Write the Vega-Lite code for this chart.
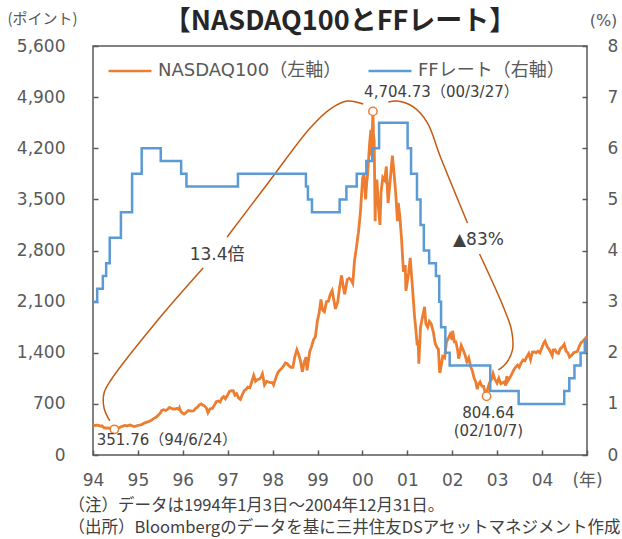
{
  "$schema": "https://vega.github.io/schema/vega-lite/v6.json",
  "width": 494,
  "height": 409,
  "autosize": {"type": "none"},
  "padding": {"left": 93, "top": 46, "right": 35, "bottom": 84},
  "background": "white",
  "config": {
    "view": {"stroke": "#595959", "strokeWidth": 1.5},
    "font": "DejaVu Sans, Noto Sans CJK JP",
    "axis": {
      "grid": false,
      "domain": false,
      "tickColor": "#595959",
      "tickSize": -5,
      "tickWidth": 1.5,
      "labelColor": "#595959",
      "labelFontSize": 17,
      "labelFont": "DejaVu Sans, Noto Sans CJK JP",
      "titleColor": "#595959",
      "titleFontWeight": "normal",
      "titleFont": "Noto Sans CJK JP"
    }
  },
  "title": {
    "text": "【NASDAQ100とFFレート】",
    "font": "Noto Sans CJK JP",
    "fontSize": 27,
    "fontWeight": "bold",
    "color": "#262626",
    "anchor": "middle",
    "offset": -25
  },
  "datasets": {
    "ndx": [
      {"d":"1994-01-03","v":398},{"d":"1994-01-15","v":405},{"d":"1994-02-01","v":410},{"d":"1994-02-15","v":405},
      {"d":"1994-03-01","v":395},{"d":"1994-03-15","v":400},{"d":"1994-04-01","v":372},{"d":"1994-04-15","v":370},
      {"d":"1994-05-01","v":372},{"d":"1994-05-15","v":365},{"d":"1994-06-01","v":370},{"d":"1994-06-15","v":360},
      {"d":"1994-06-24","v":351.76},{"d":"1994-07-08","v":360},{"d":"1994-07-22","v":365},{"d":"1994-08-05","v":375},
      {"d":"1994-08-19","v":390},{"d":"1994-09-02","v":395},{"d":"1994-09-16","v":405},{"d":"1994-10-03","v":398},
      {"d":"1994-10-17","v":405},{"d":"1994-11-01","v":410},{"d":"1994-11-15","v":400},{"d":"1994-12-01","v":390},
      {"d":"1994-12-15","v":395},{"d":"1994-12-30","v":404},
      {"d":"1995-01-13","v":410},{"d":"1995-01-31","v":414},{"d":"1995-02-15","v":430},{"d":"1995-02-28","v":440},
      {"d":"1995-03-15","v":450},{"d":"1995-03-31","v":458},{"d":"1995-04-14","v":470},{"d":"1995-04-28","v":485},
      {"d":"1995-05-15","v":505},{"d":"1995-05-31","v":520},{"d":"1995-06-15","v":545},{"d":"1995-06-30","v":570},
      {"d":"1995-07-14","v":610},{"d":"1995-07-31","v":620},{"d":"1995-08-15","v":610},{"d":"1995-08-31","v":625},
      {"d":"1995-09-15","v":650},{"d":"1995-09-29","v":640},{"d":"1995-10-13","v":630},{"d":"1995-10-31","v":630},
      {"d":"1995-11-15","v":640},{"d":"1995-11-30","v":625},{"d":"1995-12-05","v":645},{"d":"1995-12-15","v":600},
      {"d":"1995-12-29","v":576},
      {"d":"1996-01-12","v":560},{"d":"1996-01-31","v":585},{"d":"1996-02-15","v":610},{"d":"1996-02-29","v":605},
      {"d":"1996-03-15","v":600},{"d":"1996-03-29","v":605},{"d":"1996-04-15","v":640},{"d":"1996-04-30","v":655},
      {"d":"1996-05-15","v":685},{"d":"1996-05-31","v":700},{"d":"1996-06-14","v":680},{"d":"1996-06-28","v":670},
      {"d":"1996-07-12","v":640},{"d":"1996-07-24","v":580},{"d":"1996-08-09","v":630},{"d":"1996-08-30","v":640},
      {"d":"1996-09-13","v":680},{"d":"1996-09-30","v":730},{"d":"1996-10-15","v":740},{"d":"1996-10-31","v":725},
      {"d":"1996-11-15","v":780},{"d":"1996-11-29","v":800},{"d":"1996-12-13","v":770},{"d":"1996-12-31","v":821},
      {"d":"1997-01-15","v":870},{"d":"1997-01-31","v":880},{"d":"1997-02-14","v":880},{"d":"1997-02-28","v":820},
      {"d":"1997-03-14","v":840},{"d":"1997-03-31","v":780},{"d":"1997-04-14","v":760},{"d":"1997-04-30","v":830},
      {"d":"1997-05-15","v":880},{"d":"1997-05-30","v":900},{"d":"1997-06-13","v":930},{"d":"1997-06-30","v":920},
      {"d":"1997-07-15","v":1000},{"d":"1997-07-31","v":1090},{"d":"1997-08-15","v":1010},{"d":"1997-08-29","v":1030},
      {"d":"1997-09-15","v":1040},{"d":"1997-09-30","v":1070},{"d":"1997-10-10","v":1110},{"d":"1997-10-27","v":960},
      {"d":"1997-11-14","v":1010},{"d":"1997-11-28","v":1000},{"d":"1997-12-15","v":990},{"d":"1997-12-31","v":990},
      {"d":"1998-01-09","v":960},{"d":"1998-01-30","v":1070},{"d":"1998-02-13","v":1130},{"d":"1998-02-27","v":1160},
      {"d":"1998-03-13","v":1180},{"d":"1998-03-31","v":1220},{"d":"1998-04-15","v":1260},{"d":"1998-04-30","v":1250},
      {"d":"1998-05-15","v":1220},{"d":"1998-05-29","v":1200},{"d":"1998-06-15","v":1200},{"d":"1998-06-30","v":1340},
      {"d":"1998-07-17","v":1440},{"d":"1998-07-31","v":1380},{"d":"1998-08-14","v":1300},{"d":"1998-08-31","v":1140},
      {"d":"1998-09-15","v":1270},{"d":"1998-09-30","v":1340},{"d":"1998-10-08","v":1160},{"d":"1998-10-30","v":1420},
      {"d":"1998-11-13","v":1480},{"d":"1998-11-30","v":1580},{"d":"1998-12-15","v":1620},{"d":"1998-12-31","v":1836},
      {"d":"1999-01-15","v":1950},{"d":"1999-01-29","v":2130},{"d":"1999-02-12","v":1980},{"d":"1999-02-26","v":1960},
      {"d":"1999-03-15","v":2100},{"d":"1999-03-31","v":2106},{"d":"1999-04-15","v":2200},{"d":"1999-04-30","v":2250},
      {"d":"1999-05-14","v":2120},{"d":"1999-05-27","v":2000},{"d":"1999-06-15","v":2100},{"d":"1999-06-30","v":2296},
      {"d":"1999-07-16","v":2460},{"d":"1999-07-30","v":2300},{"d":"1999-08-10","v":2200},{"d":"1999-08-31","v":2400},
      {"d":"1999-09-15","v":2420},{"d":"1999-09-30","v":2400},{"d":"1999-10-15","v":2350},{"d":"1999-10-29","v":2660},
      {"d":"1999-11-15","v":2860},{"d":"1999-11-30","v":3050},{"d":"1999-12-15","v":3300},{"d":"1999-12-31","v":3708},
      {"d":"2000-01-03","v":3790},{"d":"2000-01-14","v":3850},{"d":"2000-01-27","v":3500},{"d":"2000-02-04","v":3700},
      {"d":"2000-02-15","v":3900},{"d":"2000-02-29","v":4270},{"d":"2000-03-10","v":4450},{"d":"2000-03-15","v":4100},
      {"d":"2000-03-27","v":4704.73},{"d":"2000-03-31","v":4397},{"d":"2000-04-06","v":4300},{"d":"2000-04-14","v":3200},
      {"d":"2000-04-18","v":3600},{"d":"2000-04-28","v":3770},{"d":"2000-05-10","v":3400},{"d":"2000-05-23","v":3150},
      {"d":"2000-06-01","v":3600},{"d":"2000-06-15","v":3800},{"d":"2000-06-30","v":3763},{"d":"2000-07-14","v":3950},
      {"d":"2000-07-28","v":3450},{"d":"2000-08-11","v":3700},{"d":"2000-08-31","v":4077},{"d":"2000-09-01","v":4100},
      {"d":"2000-09-15","v":3850},{"d":"2000-09-29","v":3570},{"d":"2000-10-12","v":3200},{"d":"2000-10-19","v":3450},
      {"d":"2000-10-31","v":3282},{"d":"2000-11-15","v":2950},{"d":"2000-11-30","v":2507},{"d":"2000-12-15","v":2600},
      {"d":"2000-12-20","v":2250},{"d":"2000-12-29","v":2341},
      {"d":"2001-01-12","v":2500},{"d":"2001-01-24","v":2700},{"d":"2001-02-09","v":2350},{"d":"2001-02-28","v":1908},
      {"d":"2001-03-12","v":1700},{"d":"2001-03-22","v":1500},{"d":"2001-03-30","v":1573},{"d":"2001-04-04","v":1250},
      {"d":"2001-04-18","v":1750},{"d":"2001-04-30","v":1855},{"d":"2001-05-21","v":2030},{"d":"2001-05-31","v":1800},
      {"d":"2001-06-15","v":1750},{"d":"2001-06-29","v":1830},{"d":"2001-07-13","v":1800},{"d":"2001-07-31","v":1683},
      {"d":"2001-08-15","v":1530},{"d":"2001-08-31","v":1470},{"d":"2001-09-10","v":1450},{"d":"2001-09-21","v":1126},
      {"d":"2001-09-28","v":1168},{"d":"2001-10-15","v":1350},{"d":"2001-10-31","v":1330},{"d":"2001-11-15","v":1550},
      {"d":"2001-11-30","v":1596},{"d":"2001-12-14","v":1650},{"d":"2001-12-31","v":1577},
      {"d":"2002-01-04","v":1700},{"d":"2002-01-18","v":1550},{"d":"2002-01-31","v":1550},{"d":"2002-02-15","v":1420},
      {"d":"2002-02-22","v":1320},{"d":"2002-02-28","v":1359},{"d":"2002-03-15","v":1500},{"d":"2002-03-28","v":1452},
      {"d":"2002-04-15","v":1370},{"d":"2002-04-30","v":1277},{"d":"2002-05-15","v":1330},{"d":"2002-05-31","v":1208},
      {"d":"2002-06-14","v":1150},{"d":"2002-06-28","v":1051},{"d":"2002-07-12","v":1000},{"d":"2002-07-23","v":900},
      {"d":"2002-07-31","v":962},{"d":"2002-08-15","v":1000},{"d":"2002-08-30","v":942},{"d":"2002-09-13","v":940},
      {"d":"2002-09-30","v":832},{"d":"2002-10-07","v":804.64},{"d":"2002-10-15","v":900},{"d":"2002-10-31","v":989},
      {"d":"2002-11-15","v":1030},{"d":"2002-11-29","v":1116},{"d":"2002-12-13","v":1040},{"d":"2002-12-31","v":984},
      {"d":"2003-01-15","v":1050},{"d":"2003-01-31","v":976},{"d":"2003-02-14","v":990},{"d":"2003-02-28","v":1000},
      {"d":"2003-03-11","v":950},{"d":"2003-03-21","v":1080},{"d":"2003-03-31","v":1018},{"d":"2003-04-15","v":1060},
      {"d":"2003-04-30","v":1106},{"d":"2003-05-15","v":1160},{"d":"2003-05-30","v":1200},{"d":"2003-06-16","v":1230},
      {"d":"2003-06-30","v":1201},{"d":"2003-07-15","v":1260},{"d":"2003-07-31","v":1300},{"d":"2003-08-15","v":1290},
      {"d":"2003-08-29","v":1341},{"d":"2003-09-15","v":1390},{"d":"2003-09-30","v":1303},{"d":"2003-10-15","v":1410},
      {"d":"2003-10-31","v":1412},{"d":"2003-11-14","v":1400},{"d":"2003-11-28","v":1420},{"d":"2003-12-15","v":1400},
      {"d":"2003-12-31","v":1468},
      {"d":"2004-01-15","v":1530},{"d":"2004-01-26","v":1560},{"d":"2004-02-13","v":1480},{"d":"2004-02-27","v":1450},
      {"d":"2004-03-12","v":1400},{"d":"2004-03-24","v":1360},{"d":"2004-03-31","v":1438},{"d":"2004-04-15","v":1440},
      {"d":"2004-04-30","v":1400},{"d":"2004-05-14","v":1390},{"d":"2004-05-28","v":1453},{"d":"2004-06-15","v":1480},
      {"d":"2004-06-30","v":1516},{"d":"2004-07-15","v":1420},{"d":"2004-07-30","v":1400},{"d":"2004-08-12","v":1340},
      {"d":"2004-08-31","v":1370},{"d":"2004-09-15","v":1400},{"d":"2004-09-30","v":1411},{"d":"2004-10-15","v":1420},
      {"d":"2004-10-29","v":1485},{"d":"2004-11-15","v":1540},{"d":"2004-11-30","v":1560},{"d":"2004-12-15","v":1590},
      {"d":"2004-12-31","v":1621}
    ],
    "ff": [
      {"d":"1994-01-01","v":3.00},{"d":"1994-02-04","v":3.25},{"d":"1994-03-22","v":3.50},{"d":"1994-04-18","v":3.75},
      {"d":"1994-05-17","v":4.25},{"d":"1994-08-16","v":4.75},{"d":"1994-11-15","v":5.50},{"d":"1995-02-01","v":6.00},
      {"d":"1995-07-06","v":5.75},{"d":"1995-12-19","v":5.50},{"d":"1996-01-31","v":5.25},{"d":"1997-03-25","v":5.50},
      {"d":"1998-09-29","v":5.25},{"d":"1998-10-15","v":5.00},{"d":"1998-11-17","v":4.75},{"d":"1999-06-30","v":5.00},
      {"d":"1999-08-24","v":5.25},{"d":"1999-11-16","v":5.50},{"d":"2000-02-02","v":5.75},{"d":"2000-03-21","v":6.00},
      {"d":"2000-05-16","v":6.50},{"d":"2001-01-03","v":6.00},{"d":"2001-01-31","v":5.50},{"d":"2001-03-20","v":5.00},
      {"d":"2001-04-18","v":4.50},{"d":"2001-05-15","v":4.00},{"d":"2001-06-27","v":3.75},{"d":"2001-08-21","v":3.50},
      {"d":"2001-09-17","v":3.00},{"d":"2001-10-02","v":2.50},{"d":"2001-11-06","v":2.00},{"d":"2001-12-11","v":1.75},
      {"d":"2002-11-06","v":1.25},{"d":"2003-06-25","v":1.00},{"d":"2004-06-30","v":1.25},{"d":"2004-08-10","v":1.50},
      {"d":"2004-09-21","v":1.75},{"d":"2004-11-10","v":2.00},{"d":"2004-12-14","v":2.25},{"d":"2004-12-31","v":2.25}
    ],
    "arcs": [
      {"g":1,"i":1,"d":"1994-05-18","v":466},{"g":1,"i":2,"d":"1994-04-01","v":643},{"g":1,"i":3,"d":"1994-04-01","v":849},
      {"g":1,"i":4,"d":"1994-05-27","v":1027},{"g":1,"i":5,"d":"1995-06-06","v":1835},{"g":1,"i":6,"d":"1996-06-15","v":2560},
      {"g":2,"i":1,"d":"1996-12-27","v":2985},{"g":2,"i":2,"d":"1997-11-25","v":3724},{"g":2,"i":3,"d":"1998-11-02","v":4477},
      {"g":2,"i":4,"d":"1999-04-14","v":4737},{"g":2,"i":5,"d":"1999-08-30","v":4847},{"g":2,"i":6,"d":"2000-01-08","v":4806},
      {"g":3,"i":1,"d":"2000-07-30","v":4833},{"g":3,"i":2,"d":"2000-10-11","v":4847},{"g":3,"i":3,"d":"2001-02-19","v":4765},
      {"g":3,"i":4,"d":"2001-06-13","v":4546},{"g":3,"i":5,"d":"2001-09-27","v":4080},{"g":3,"i":6,"d":"2002-05-05","v":3177},
      {"g":4,"i":1,"d":"2002-08-11","v":2752},{"g":4,"i":2,"d":"2003-02-21","v":2026},{"g":4,"i":3,"d":"2003-04-28","v":1711},
      {"g":4,"i":4,"d":"2003-05-06","v":1438},{"g":4,"i":5,"d":"2003-03-17","v":1260},{"g":4,"i":6,"d":"2003-01-11","v":1164}
    ],
    "pts": [
      {"d":"1994-06-24","v":351.76},{"d":"2000-03-27","v":4704.73},{"d":"2002-10-07","v":804.64}
    ],
    "notesSmall": [
      {"d":"2001-10-05","v":4970,"t":"4,704.73（00/3/27）"},
      {"d":"1995-08-25","v":205,"t":"351.76（94/6/24）"},
      {"d":"2002-10-22","v":575,"t":"804.64"},
      {"d":"2002-10-22","v":329,"t":"(02/10/7)"}
    ],
    "notesBig": [
      {"d":"1996-10-06","v":2738,"t":"13.4倍"},
      {"d":"2002-08-02","v":2944,"t":"▲83%"}
    ]
  },
  "encoding": {
    "x": {
      "field": "d",
      "type": "temporal",
      "scale": {"type": "utc", "domain": [{"year":1994,"month":1,"date":1,"utc":true},{"year":2005,"month":1,"date":1,"utc":true}]},
      "axis": {
        "values": [
          {"year":1994,"month":1,"date":1,"utc":true},{"year":1995,"month":1,"date":1,"utc":true},
          {"year":1996,"month":1,"date":1,"utc":true},{"year":1997,"month":1,"date":1,"utc":true},
          {"year":1998,"month":1,"date":1,"utc":true},{"year":1999,"month":1,"date":1,"utc":true},
          {"year":2000,"month":1,"date":1,"utc":true},{"year":2001,"month":1,"date":1,"utc":true},
          {"year":2002,"month":1,"date":1,"utc":true},{"year":2003,"month":1,"date":1,"utc":true},
          {"year":2004,"month":1,"date":1,"utc":true},{"year":2005,"month":1,"date":1,"utc":true}
        ],
        "labelExpr": "utcyear(datum.value) >= 2005 ? '(年)' : utcFormat(datum.value, '%y')",
        "labelPadding": 22,
        "labelFlush": false,
        "labelOverlap": false,
        "title": ["（注）データは1994年1月3日～2004年12月31日。", "（出所）Bloombergのデータを基に三井住友DSアセットマネジメント作成"],
        "titleFontSize": 16.5,
        "titleAnchor": "start",
        "titleAlign": "left",
        "titleBaseline": "top",
        "titleX": -25,
        "titleY": 42,
        "titleLineHeight": 22,
        "titleColor": "#404040"
      }
    }
  },
  "layer": [
    {
      "encoding": {
        "y": {
          "field": "v",
          "type": "quantitative",
          "scale": {"domain": [0, 5600], "nice": false, "zero": true},
          "axis": {
            "values": [0, 700, 1400, 2100, 2800, 3500, 4200, 4900, 5600],
            "format": ",.0f",
            "labelPadding": 33,
            "title": "(ポイント)",
            "titleAngle": 0,
            "titleFontSize": 15,
            "titleAlign": "center",
            "titleBaseline": "middle",
            "titleX": -51,
            "titleY": -28
          }
        }
      },
      "layer": [
        {
          "data": {"name": "ndx"},
          "mark": {"type": "line", "strokeWidth": 2.8},
          "encoding": {
            "color": {
              "datum": "NASDAQ100（左軸）",
              "type": "nominal",
              "scale": {"domain": ["NASDAQ100（左軸）", "FFレート（右軸）"], "range": ["#ED7D31", "#5B9BD5"]},
              "legend": {
                "title": null,
                "orient": "none",
                "legendX": 14,
                "legendY": 2,
                "direction": "horizontal",
                "symbolType": "stroke",
                "symbolSize": 1849,
                "symbolStrokeWidth": 2.5,
                "labelFontSize": 18,
                "labelColor": "#595959",
                "labelFont": "DejaVu Sans, Noto Sans CJK JP",
                "labelOffset": 5,
                "columnPadding": 21,
                "padding": 0,
                "labelLimit": 400
              }
            }
          }
        },
        {
          "data": {"name": "arcs"},
          "mark": {"type": "line", "interpolate": "catmull-rom", "color": "#C55A11", "strokeWidth": 1.5},
          "encoding": {
            "detail": {"field": "g", "type": "nominal"},
            "order": {"field": "i", "type": "quantitative"}
          }
        },
        {
          "data": {"name": "pts"},
          "mark": {"type": "point", "shape": "circle", "filled": false, "fill": "white", "fillOpacity": 1, "stroke": "#ED7D31", "strokeWidth": 1.5, "size": 70, "opacity": 1}
        },
        {
          "data": {"name": "notesSmall"},
          "mark": {"type": "text", "fontSize": 15, "color": "#404040", "align": "center", "baseline": "middle", "font": "DejaVu Sans, Noto Sans CJK JP"},
          "encoding": {"text": {"field": "t"}}
        },
        {
          "data": {"name": "notesBig"},
          "mark": {"type": "text", "fontSize": 17, "color": "#404040", "align": "center", "baseline": "middle", "font": "DejaVu Sans, Noto Sans CJK JP"},
          "encoding": {"text": {"field": "t"}}
        }
      ]
    },
    {
      "data": {"name": "ff"},
      "mark": {"type": "line", "interpolate": "step-after", "strokeWidth": 2.5},
      "encoding": {
        "y": {
          "field": "v",
          "type": "quantitative",
          "scale": {"domain": [0, 8], "nice": false},
          "axis": {
            "orient": "right",
            "values": [0, 1, 2, 3, 4, 5, 6, 7, 8],
            "labelPadding": 25,
            "title": "(%)",
            "titleAngle": 0,
            "titleFontSize": 16,
            "titleFont": "DejaVu Sans",
            "titleAlign": "center",
            "titleBaseline": "middle",
            "titleX": 16,
            "titleY": -26
          }
        },
        "color": {"datum": "FFレート（右軸）", "type": "nominal"}
      }
    }
  ],
  "resolve": {"scale": {"y": "independent"}}
}
